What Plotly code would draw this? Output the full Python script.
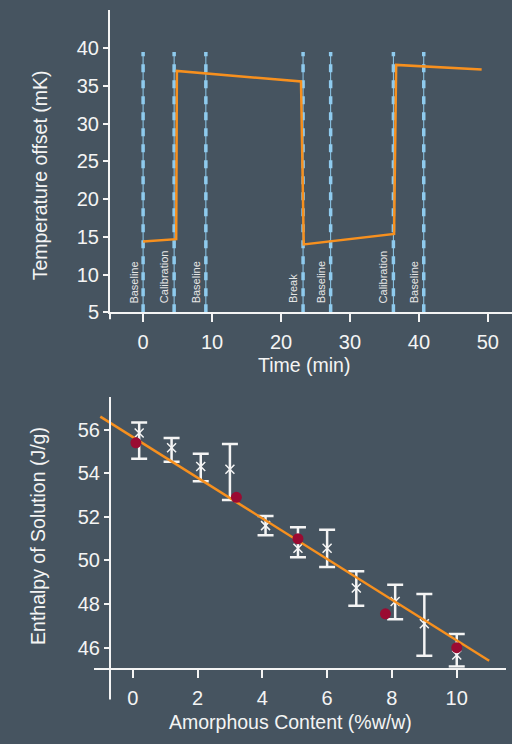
import plotly.graph_objects as go

# ---- Top panel: temperature offset trace with event markers ----
time_min = [0, 4.8, 4.9, 22.9, 23.3, 36.4, 36.7, 49.1]
temp_offset = [14.4, 14.7, 37.0, 35.6, 14.0, 15.4, 37.8, 37.2]

event_times = [0, 4.5, 9.1, 23.2, 27.2, 36.3, 40.7]
event_labels = ["Baseline", "Calibration", "Baseline", "Break",
                "Baseline", "Calibration", "Baseline"]
event_top = 39.5

# ---- Bottom panel: enthalpy of solution vs amorphous content ----
amorph_x = [0.2, 1.2, 2.1, 3.0, 4.1, 5.1, 6.0, 6.9, 8.1, 9.0, 10.0]
enth_mean = [55.85, 55.17, 54.31, 54.19, 51.6, 50.56, 50.56, 48.74, 48.12, 47.1, 45.66]
enth_hi = [56.33, 55.62, 54.9, 55.35, 52.04, 51.53, 51.41, 49.51, 48.89, 48.46, 46.63]
enth_lo = [54.67, 54.53, 53.64, 52.78, 51.16, 50.15, 49.7, 47.92, 47.3, 45.63, 45.13]

ref_x = [0.1, 3.2, 5.1, 7.8, 10.0]
ref_y = [55.4, 52.9, 51.0, 47.55, 46.0]

fit_x = [-1.0, 11.0]
fit_y = [56.6, 45.4]

BG = "#465460"
ORANGE = "#f7901e"
BLUE = "#8fcbee"
RED = "#9a0b32"
WHITE = "#f4f4f4"
FONT = "Liberation Sans"

W, H = 512, 744

def py(px):
    return 1 - px / H

fig = go.Figure()

fig.add_trace(go.Scatter(
    x=time_min, y=temp_offset, mode="lines",
    line=dict(color=ORANGE, width=2.5),
    xaxis="x", yaxis="y", showlegend=False,
))

err_plus = [h - m for h, m in zip(enth_hi, enth_mean)]
err_minus = [m - l for m, l in zip(enth_mean, enth_lo)]
fig.add_trace(go.Scatter(
    x=amorph_x, y=enth_mean, mode="markers",
    marker=dict(symbol="x-thin", size=9, color=WHITE,
                line=dict(color=WHITE, width=1.5)),
    error_y=dict(type="data", symmetric=False, array=err_plus,
                 arrayminus=err_minus, color=WHITE, thickness=2.5, width=8),
    xaxis="x2", yaxis="y2", showlegend=False,
))
fig.add_trace(go.Scatter(
    x=fit_x, y=fit_y, mode="lines",
    line=dict(color=ORANGE, width=2.5),
    xaxis="x2", yaxis="y2", showlegend=False,
))
fig.add_trace(go.Scatter(
    x=ref_x, y=ref_y, mode="markers",
    marker=dict(size=11, color=RED),
    xaxis="x2", yaxis="y2", showlegend=False,
))

shapes = []
annotations = []
for t, lab in zip(event_times, event_labels):
    shapes.append(dict(type="line", xref="x", yref="y", x0=t, x1=t, y0=5, y1=event_top,
                       line=dict(color=BLUE, width=1), layer="below"))
    shapes.append(dict(type="line", xref="x", yref="y", x0=t, x1=t, y0=5, y1=event_top,
                       line=dict(color=BLUE, width=3.5, dash="8px,8px"), layer="below"))
    annotations.append(dict(x=t, y=5.9, xref="x", yref="y", text=lab, showarrow=False,
                            textangle=-90, xanchor="center", yanchor="bottom", xshift=-10,
                            font=dict(family=FONT, size=11, color="#e6e6e6")))

# y-axis line of the top panel runs a little below the time axis
shapes.append(dict(type="line", xref="paper", yref="paper", x0=110 / W, x1=110 / W,
                   y0=py(317), y1=py(324), line=dict(color=WHITE, width=2)))
# y-axis line of the bottom panel runs below the content axis
shapes.append(dict(type="line", xref="paper", yref="paper", x0=110 / W, x1=110 / W,
                   y0=py(677.7), y1=py(710), line=dict(color=WHITE, width=2)))

title_font = dict(family=FONT, size=19.5, color=WHITE)
annotations += [
    dict(x=40 / W, y=py(178), xref="paper", yref="paper", text="Temperature offset (mK)",
         textangle=-90, showarrow=False, font=title_font, xanchor="center", yanchor="middle"),
    dict(x=304 / W, y=py(370), xref="paper", yref="paper", text="Time (min)",
         showarrow=False, font=title_font, xanchor="center", yanchor="middle"),
    dict(x=38 / W, y=py(544), xref="paper", yref="paper", text="Enthalpy of Solution (J/g)",
         textangle=-90, showarrow=False, font=title_font, xanchor="center", yanchor="middle"),
    dict(x=290 / W, y=py(733), xref="paper", yref="paper", text="Amorphous Content (%w/w)",
         showarrow=False, font=title_font, xanchor="center", yanchor="middle"),
]

tick_font = dict(family=FONT, size=20, color=WHITE)
axis_common = dict(showgrid=False, zeroline=False, showline=True, linecolor=WHITE,
                   linewidth=2, ticks="outside", tickwidth=2,
                   tickcolor=WHITE, tickfont=tick_font)
x_common = dict(ticklen=8, ticklabelstandoff=3, **axis_common)
y_common = dict(ticklen=5, **axis_common)

fig.update_layout(
    width=W, height=H,
    margin=dict(l=0, r=0, t=0, b=0),
    paper_bgcolor=BG, plot_bgcolor=BG,
    xaxis=dict(domain=[110 / W, 1], range=[-4.8, 53.5], anchor="y",
               tickvals=[0, 10, 20, 30, 40, 50], **x_common),
    yaxis=dict(domain=[py(317), py(10)], range=[5, 45.1], anchor="x",
               tickvals=[5, 10, 15, 20, 25, 30, 35, 40], **y_common),
    xaxis2=dict(domain=[94 / W, 506 / W], range=[-1.194, 11.52], anchor="y2",
                tickvals=[0, 2, 4, 6, 8, 10], **x_common),
    yaxis2=dict(domain=[py(677.7), py(403)], range=[45.08, 57.5], anchor="free",
                position=110 / W, tickvals=[46, 48, 50, 52, 54, 56], **y_common),
    shapes=shapes,
    annotations=annotations,
)

fig.write_html("out.html")
